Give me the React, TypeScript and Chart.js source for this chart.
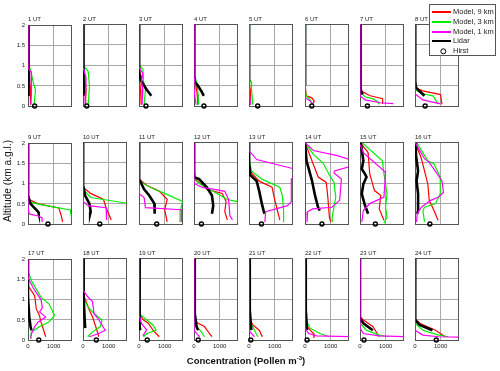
import React, { useEffect, useRef } from "react";
import { Chart, registerables } from "chart.js";
Chart.register(...registerables);

type Pt = [number, number];

const hours: number[] = [1, 2, 3, 4, 5, 6, 7, 8, 9, 10, 11, 12, 13, 14, 15, 16, 17, 18, 19, 20, 21, 22, 23, 24];
const xTicks: number[] = [0, 1000];
const yTicks: number[] = [0, 0.5, 1, 1.5, 2];

// [concentration, altitude km] pairs per hour
const model9km: Pt[][] = [
  [[0, 2], [0, 0.95], [50, 0.8], [80, 0.5], [100, 0.2], [100, 0.03]],
  [[0, 2], [0, 0.9], [80, 0.7], [120, 0.4], [100, 0.1], [100, 0.03]],
  [[0, 2], [0, 0.9], [100, 0.7], [60, 0.4], [80, 0.1], [80, 0.03]],
  [[0, 2], [0, 0.75], [60, 0.6], [120, 0.3], [150, 0.03]],
  [[0, 2], [0, 0.6], [50, 0.4], [60, 0.03]],
  [[0, 2], [0, 0.55], [50, 0.25], [270, 0.2], [360, 0.12], [310, 0.05]],
  [[0, 2], [0, 0.45], [100, 0.35], [400, 0.25], [880, 0.18], [880, 0.05]],
  [[0, 2], [0, 0.45], [300, 0.37], [1000, 0.28], [1030, 0.1], [1060, 0.04]],
  [[0, 2], [0, 0.62], [400, 0.5], [1200, 0.4], [1300, 0.2], [1350, 0.05]],
  [[0, 2], [0, 0.9], [300, 0.75], [800, 0.6], [900, 0.4], [1100, 0.1]],
  [[0, 2], [0, 1.1], [300, 0.95], [800, 0.8], [1100, 0.6], [1000, 0.35], [1100, 0.05]],
  [[0, 2], [0, 1.35], [50, 1.1], [500, 0.85], [1100, 0.75], [1250, 0.55], [1200, 0.3], [1300, 0.1]],
  [[0, 2], [0, 1.5], [100, 1.25], [400, 1.05], [900, 0.9], [1000, 0.6], [1200, 0.1]],
  [[0, 2], [270, 1.55], [515, 1.15], [830, 1.02], [890, 0.66], [950, 0.17], [1000, 0.05]],
  [[0, 2], [315, 1.75], [380, 1.23], [565, 0.82], [810, 0.7], [750, 0.37], [935, 0.09]],
  [[0, 2], [37, 1.96], [250, 1.6], [370, 1.3], [500, 0.98], [555, 0.58], [740, 0.33], [900, 0.09]],
  [[0, 2], [0, 1.35], [136, 1.22], [260, 1.1], [320, 0.78], [445, 0.61], [505, 0.45], [570, 0.33], [690, 0.08]],
  [[0, 2], [0, 1.14], [125, 0.94], [250, 0.73], [370, 0.57], [495, 0.33], [620, 0.08]],
  [[0, 2], [0, 0.65], [175, 0.49], [360, 0.41], [545, 0.24], [790, 0.08]],
  [[0, 2], [0, 0.49], [160, 0.41], [410, 0.33], [600, 0.16], [700, 0.08]],
  [[0, 2], [0, 0.53], [150, 0.37], [400, 0.24], [520, 0.08]],
  [[0, 2], [0, 0.7], [80, 0.33], [330, 0.16], [350, 0.05]],
  [[0, 2], [0, 0.57], [130, 0.49], [500, 0.33], [750, 0.08]],
  [[0, 2], [0, 0.53], [185, 0.41], [800, 0.24], [1175, 0.08]],
];

const model3km: Pt[][] = [
  [[0, 2], [0, 1.02], [100, 0.9], [200, 0.6], [290, 0.4], [250, 0.1], [230, 0.02]],
  [[0, 2], [0, 1.0], [200, 0.85], [250, 0.5], [220, 0.15], [200, 0.03]],
  [[0, 2], [0, 1.0], [150, 0.9], [180, 0.6], [250, 0.4], [200, 0.03]],
  [[0, 2], [0, 0.78], [100, 0.6], [150, 0.35], [180, 0.03]],
  [[0, 2], [0, 0.65], [80, 0.6], [100, 0.4], [150, 0.03]],
  [[0, 2], [0, 0.5], [40, 0.25], [200, 0.15], [280, 0.05]],
  [[0, 2], [0, 0.35], [200, 0.22], [500, 0.18], [700, 0.1], [750, 0.04]],
  [[0, 2], [0, 0.4], [300, 0.3], [700, 0.25], [800, 0.15], [900, 0.05]],
  [[0, 2], [0, 0.55], [500, 0.48], [1650, 0.35], [1700, 0.15], [1720, 0.03]],
  [[0, 2], [0, 0.85], [300, 0.65], [800, 0.6], [1800, 0.5]],
  [[0, 2], [0, 1.05], [600, 0.85], [1000, 0.75], [1700, 0.55], [1600, 0.3], [1600, 0.05]],
  [[0, 2], [0, 1.1], [300, 0.95], [900, 0.75], [1300, 0.6], [1700, 0.55], [1700, 0.05]],
  [[0, 2], [0, 1.6], [100, 1.3], [500, 1.1], [1200, 0.9], [1300, 0.7], [1350, 0.3], [1350, 0.05]],
  [[0, 2], [330, 1.7], [700, 1.5], [950, 1.2], [1130, 1.02], [1200, 0.66], [1060, 0.17], [1060, 0.05]],
  [[70, 2], [870, 1.55], [935, 1.23], [1055, 0.74], [995, 0.41], [1055, 0.17], [935, 0.02]],
  [[60, 2], [500, 1.55], [740, 1.47], [985, 1.15], [985, 0.74], [800, 0.5], [370, 0.41], [310, 0.33], [370, 0.05]],
  [[0, 2], [0, 1.71], [136, 1.47], [510, 1.06], [815, 0.9], [1037, 0.61], [815, 0.45], [445, 0.33], [136, 0.2], [100, 0.08], [125, 0.02]],
  [[0, 2], [0, 1.06], [185, 0.82], [430, 0.65], [740, 0.49], [680, 0.33], [370, 0.2], [185, 0.08]],
  [[0, 2], [0, 0.65], [300, 0.49], [545, 0.37], [665, 0.24], [300, 0.16], [175, 0.08]],
  [[0, 2], [0, 0.41], [160, 0.29], [290, 0.2], [410, 0.08]],
  [[0, 2], [0, 0.45], [150, 0.33], [275, 0.16], [340, 0.08]],
  [[0, 2], [0, 0.53], [200, 0.29], [575, 0.16], [950, 0.08]],
  [[0, 2], [0, 0.41], [250, 0.24], [750, 0.12], [1100, 0.08]],
  [[0, 2], [0, 0.41], [310, 0.24], [925, 0.12], [1300, 0.08]],
];

const model1km: Pt[][] = [
  [[0, 2], [0, 0.95], [120, 0.85], [150, 0.6], [120, 0.3], [110, 0.03]],
  [[0, 2], [0, 0.95], [120, 0.7], [100, 0.3], [80, 0.03]],
  [[0, 2], [0, 0.95], [150, 0.8], [100, 0.6], [150, 0.4], [120, 0.03]],
  [[0, 2], [0, 0.7], [50, 0.5], [20, 0.3], [80, 0.03]],
  [[0, 2], [0, 0.55], [30, 0.3], [60, 0.03]],
  [[0, 2], [0, 0.45], [30, 0.2], [200, 0.12], [300, 0.05]],
  [[0, 2], [0, 0.25], [200, 0.15], [800, 0.08], [1300, 0.06]],
  [[0, 2], [0, 0.3], [300, 0.15], [1000, 0.05]],
  [[0, 2], [0, 0.4], [50, 0.25], [400, 0.2], [550, 0.15], [550, 0.05]],
  [[0, 2], [0, 0.55], [200, 0.45], [900, 0.4], [920, 0.1]],
  [[0, 2], [0, 0.75], [200, 0.65], [250, 0.4], [1650, 0.35], [1650, 0.05]],
  [[0, 2], [0, 1.0], [300, 0.9], [800, 0.85], [1200, 0.8], [1350, 0.6], [1400, 0.2], [1500, 0.1]],
  [[0, 2], [0, 1.8], [300, 1.58], [1700, 1.36], [2000, 1.3], [1650, 1.1], [1650, 0.55], [1500, 0.45], [650, 0.3], [620, 0.05]],
  [[0, 2], [330, 1.8], [1300, 1.67], [1800, 1.57], [2000, 1.45], [1150, 1.3], [1130, 1.25], [1420, 1.1], [1350, 0.58], [1050, 0.41], [300, 0.37], [100, 0.3], [80, 0.05]],
  [[0, 1.95], [130, 1.75], [995, 1.27], [935, 0.66], [380, 0.5], [130, 0.33], [70, 0.05]],
  [[0, 2], [37, 1.96], [185, 1.8], [370, 1.6], [555, 1.51], [1050, 1.06], [1110, 0.78], [925, 0.66], [615, 0.58], [250, 0.41], [85, 0.25], [60, 0.05]],
  [[0, 2], [0, 1.55], [200, 1.3], [510, 1.0], [560, 0.8], [450, 0.7], [690, 0.57], [400, 0.45], [260, 0.33], [140, 0.16], [100, 0.04]],
  [[0, 2], [0, 1.22], [185, 1.06], [370, 0.94], [430, 0.65], [620, 0.49], [865, 0.24], [620, 0.16], [250, 0.08]],
  [[0, 2], [0, 0.6], [100, 0.4], [300, 0.25], [150, 0.1]],
  [[0, 2], [0, 0.24], [100, 0.16], [220, 0.08]],
  [[0, 2], [0, 0.24], [90, 0.16], [215, 0.08]],
  [[0, 2], [0, 0.29], [140, 0.16], [450, 0.1], [1750, 0.08]],
  [[0, 2], [0, 0.29], [130, 0.16], [750, 0.1], [1750, 0.08]],
  [[0, 2], [0, 0.24], [310, 0.12], [925, 0.08], [1750, 0.07]],
];

const lidar: Pt[][] = [
  [[0, 2], [10, 0.9], [20, 0.6], [30, 0.25]],
  [[0, 2], [10, 1.2], [30, 0.7], [40, 0.25]],
  [[0, 2], [5, 1.2], [10, 0.8], [50, 0.65], [150, 0.55], [300, 0.4], [480, 0.25]],
  [[0, 2], [5, 1.2], [20, 0.6], [150, 0.5], [300, 0.35], [380, 0.25]],
  [[0, 2], [5, 0.6]],
  [[0, 2], [5, 0.5]],
  [[0, 2], [10, 0.6], [30, 0.4], [100, 0.28]],
  [[0, 2], [10, 0.6], [40, 0.45], [200, 0.35], [370, 0.25]],
  [[0, 2], [5, 0.7], [100, 0.5], [250, 0.4], [400, 0.3], [420, 0.25]],
  [[0, 2], [5, 0.95], [80, 0.7], [250, 0.5], [300, 0.3], [280, 0.25]],
  [[0, 2], [5, 1.1], [200, 0.85], [400, 0.7], [600, 0.5], [620, 0.35], [600, 0.25]],
  [[0, 2], [5, 1.15], [200, 1.1], [500, 0.9], [700, 0.7], [750, 0.45], [700, 0.25]],
  [[0, 2], [5, 1.5], [50, 1.2], [300, 1.05], [400, 0.8], [500, 0.5], [600, 0.25]],
  [[0, 2], [60, 1.55], [270, 1.07], [390, 0.7], [510, 0.41], [575, 0.33]],
  [[32, 2], [130, 1.55], [70, 1.35], [193, 1.23], [255, 1.15], [130, 0.98], [70, 0.74], [193, 0.46], [316, 0.25]],
  [[0, 2], [37, 1.7], [120, 1.3], [60, 1.06], [120, 0.74], [120, 0.33], [85, 0.25]],
  [[0, 2], [0, 1.06], [50, 0.57], [100, 0.33], [135, 0.24]],
  [[0, 2], [25, 1.06], [60, 0.57], [85, 0.29]],
  [[0, 2], [25, 0.33], [50, 0.24]],
  [[0, 2], [30, 0.65], [100, 0.33], [160, 0.24]],
  [[0, 2], [30, 0.73], [90, 0.24]],
  [[0, 2], [30, 0.73], [80, 0.24]],
  [[0, 2], [0, 0.53], [130, 0.41], [500, 0.24]],
  [[0, 2], [10, 0.49], [185, 0.37], [680, 0.24]],
];

const hirst: number[] = [260, 148, 272, 387, 338, 265, 290, 395, 778, 654, 690, 290, 487, 660, 600, 580, 420, 520, 320, 165, 70, 80, 155, 830];

const PANEL_W = 46;
const PANEL_H = 82;
const PAD_L = 24;
const PAD_T = 5;
const PAD_R = 3;
const PAD_B = 14;
const rowTops = [24, 142, 258];
const colLeft = (c: number) => Math.round(28 + c * 55.3);
const FONT = "'Liberation Sans', Arial, sans-serif";

const boxPlugin = {
  id: "panelBox",
  beforeDatasetsDraw(chart: any) {
    const { ctx, chartArea: a } = chart;
    const al = (v: number) => Math.round(v - 0.5) + 0.5;
    ctx.save();
    ctx.strokeStyle = "#555";
    ctx.lineWidth = 1;
    const l = al(a.left), t = al(a.top), r = al(a.right), b = al(a.bottom);
    ctx.strokeRect(l, t, r - l, b - t);
    ctx.restore();
  },
};

function Panel({ idx }: { idx: number }) {
  const ref = useRef<HTMLCanvasElement>(null);
  const col = idx % 8;
  const row = Math.floor(idx / 8);
  const w = PAD_L + PANEL_W + PAD_R;
  const h = PAD_T + PANEL_H + PAD_B;
  useEffect(() => {
    const toXY = (s: Pt[]) => s.map(([x, y]) => ({ x, y }));
    const line = (label: string, s: Pt[], color: string, width: number, order: number) => ({
      label,
      data: toXY(s),
      borderColor: color,
      backgroundColor: color,
      borderWidth: width,
      pointRadius: 0,
      tension: 0,
      fill: false,
      order,
    });
    const chart = new Chart(ref.current as HTMLCanvasElement, {
      type: "line",
      data: {
        datasets: [
          {
            label: "Hirst",
            data: [{ x: hirst[idx], y: 0 }],
            showLine: false,
            pointRadius: 2,
            pointBorderWidth: 1.4,
            pointBorderColor: "#000",
            pointBackgroundColor: "rgba(255,255,255,0)",
            clip: false,
            order: 0,
          } as any,
          line("Model, 1 km", model1km[idx], "#ff00ff", 1.2, 1),
          line("Lidar", lidar[idx], "#000000", 2.6, 2),
          line("Model, 3 km", model3km[idx], "#00ee00", 1.2, 3),
          line("Model, 9 km", model9km[idx], "#ff0000", 1.2, 4),
        ],
      },
      options: {
        responsive: false,
        animation: false,
        events: [],
        layout: { padding: { left: 0, top: PAD_T, right: PAD_R, bottom: 0 } },
        plugins: { legend: { display: false }, tooltip: { enabled: false }, title: { display: false } },
        scales: {
          x: {
            type: "linear",
            min: 0,
            max: 1700,
            afterBuildTicks: (s: any) => {
              s.ticks = xTicks.map((v) => ({ value: v }));
            },
            afterFit: (s: any) => {
              s.height = PAD_B;
            },
            grid: { color: "#a8a8a8", drawTicks: false, lineWidth: 1 },
            border: { color: "#555", width: 1 },
            ticks: {
              display: row === 2,
              padding: 3,
              maxRotation: 0,
              autoSkip: false,
              color: "#222",
              font: { size: 6, family: FONT },
              callback: (v: any) => String(v),
            },
          },
          y: {
            type: "linear",
            min: 0,
            max: 2,
            afterBuildTicks: (s: any) => {
              s.ticks = yTicks.map((v) => ({ value: v }));
            },
            afterFit: (s: any) => {
              s.width = PAD_L;
            },
            grid: { color: "#a8a8a8", drawTicks: false, lineWidth: 1 },
            border: { color: "#555", width: 1 },
            ticks: {
              display: col === 0,
              padding: 3,
              color: "#222",
              font: { size: 6, family: FONT },
              callback: (v: any) => String(v),
            },
          },
        },
      } as any,
      plugins: [boxPlugin],
    });
    return () => chart.destroy();
  }, [idx]);
  const left = colLeft(col);
  const top = rowTops[row];
  return (
    <>
      <canvas
        ref={ref}
        width={w}
        height={h}
        style={{ position: "absolute", left: left - PAD_L, top: top - PAD_T, width: w, height: h }}
      />
      <div
        style={{
          position: "absolute",
          left: left,
          top: top - 8,
          fontSize: 6,
          lineHeight: "7px",
          color: "#222",
          whiteSpace: "nowrap",
        }}
      >
        {hours[idx]} UT
      </div>
    </>
  );
}

const legendItems = [
  { label: "Model, 9 km", color: "#ff0000", kind: "line", width: 1.2 },
  { label: "Model, 3 km", color: "#00ee00", kind: "line", width: 1.2 },
  { label: "Model, 1 km", color: "#ff00ff", kind: "line", width: 1.2 },
  { label: "Lidar", color: "#000000", kind: "line", width: 2.6 },
  { label: "Hirst", color: "#000000", kind: "marker", width: 1.4 },
];
const legendRowY = [12, 22, 32, 41, 51];

export default function App() {
  return (
    <div
      style={{
        position: "absolute",
        left: 0,
        top: 0,
        width: 500,
        height: 371,
        background: "#fff",
        fontFamily: FONT,
        overflow: "hidden",
      }}
    >
      {hours.map((_, i) => (
        <Panel key={i} idx={i} />
      ))}
      <div
        style={{
          position: "absolute",
          left: 429,
          top: 4,
          width: 67,
          height: 52,
          border: "1px solid #555",
          background: "#fff",
          boxSizing: "border-box",
        }}
      />
      {legendItems.map((it, i) => (
        <React.Fragment key={it.label}>
          {it.kind === "line" ? (
            <div
              style={{
                position: "absolute",
                left: 432,
                top: legendRowY[i] - it.width / 2,
                width: 19,
                height: it.width,
                background: it.color,
              }}
            />
          ) : (
            <div
              style={{
                position: "absolute",
                left: 441,
                top: legendRowY[i] - 2,
                width: 4,
                height: 4,
                borderRadius: "50%",
                border: "1.4px solid #000",
                boxSizing: "content-box",
                transform: "translate(-0.7px,-0.7px)",
              }}
            />
          )}
          <div
            style={{
              position: "absolute",
              left: 453,
              top: legendRowY[i] - 5,
              fontSize: 7.5,
              lineHeight: "10px",
              color: "#222",
              whiteSpace: "nowrap",
            }}
          >
            {it.label}
          </div>
        </React.Fragment>
      ))}
      <div
        style={{
          position: "absolute",
          left: 8,
          top: 181,
          transform: "translate(-50%,-50%) rotate(-90deg)",
          fontSize: 10.2,
          whiteSpace: "nowrap",
          color: "#111",
          lineHeight: "12px",
        }}
      >
        Altitude (km a.g.l.)
      </div>
      <div
        style={{
          position: "absolute",
          left: 246,
          top: 361,
          transform: "translate(-50%,-50%)",
          fontSize: 9.5,
          fontWeight: "bold",
          whiteSpace: "nowrap",
          color: "#111",
          lineHeight: "12px",
        }}
      >
        Concentration (Pollen m<sup style={{ fontSize: 6, lineHeight: 0 }}>-3</sup>)
      </div>
    </div>
  );
}
